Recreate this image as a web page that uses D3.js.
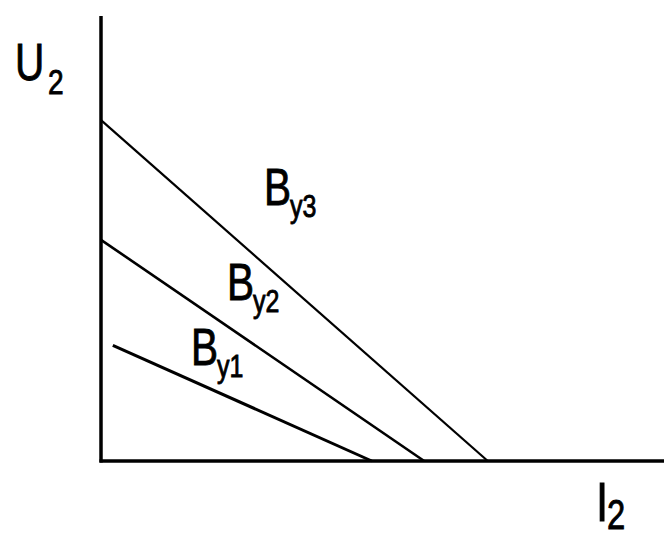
<!DOCTYPE html>
<html>
<head>
<meta charset="utf-8">
<script src="https://cdn.jsdelivr.net/npm/d3@7"></script>
<style>
  html, body { margin: 0; padding: 0; background: #fff; }
  svg { display: block; }
  text { font-family: "Liberation Sans", Arial, sans-serif; fill: #000; stroke: #000; stroke-width: 0.9px; }
</style>
</head>
<body>
<svg id="chart" width="664" height="536"></svg>
<script>
// Load characteristics U2 = f(I2) for three excitation levels
const curves = ["Ву1", "Ву2", "Ву3"];
const u2AtStart = [2.6, 4.97, 7.66];   // U2 where each line begins
const i2AtStart = [0.21, 0, 0];        // I2 where each line begins
const i2AtZero = [4.81, 5.74, 6.87];   // I2 where U2 falls to zero
const axisLabels = { y: ["U", "2"], x: ["I", "2"] };

const W = 664, H = 536;
const x0 = 101, y0 = 461;
const x = d3.scaleLinear().domain([0, 10]).range([x0, W]);
const y = d3.scaleLinear().domain([0, 10]).range([y0, 16]);

const svg = d3.select("#chart");

// curves
const widths = [3, 2.6, 2.2];
const line = d3.line().x(d => x(d[0])).y(d => y(d[1]));
curves.forEach((c, i) => {
  svg.append("path")
    .attr("d", line([[i2AtStart[i], u2AtStart[i]], [i2AtZero[i], 0]]))
    .attr("fill", "none")
    .attr("stroke", "#000")
    .attr("stroke-width", widths[i]);
});

// axes
svg.append("line")
  .attr("x1", x(0)).attr("x2", x(0))
  .attr("y1", y(10)).attr("y2", y(0) + 1.5)
  .attr("stroke", "#000").attr("stroke-width", 3.5);
svg.append("line")
  .attr("x1", x(0) - 1.5).attr("x2", x(10))
  .attr("y1", y(0)).attr("y2", y(0))
  .attr("stroke", "#000").attr("stroke-width", 3.5);

// narrow label helper: main glyph plus subscript
function label(px, py, main, sub, subDx, subDy, mainSize, subSize) {
  const g = svg.append("g").attr("transform", `translate(${px},${py}) scale(0.78,1)`);
  g.append("text").attr("x", 0).attr("y", 0)
    .style("font-size", mainSize + "px").text(main);
  g.append("text").attr("x", subDx / 0.78).attr("y", subDy)
    .style("font-size", subSize + "px").text(sub);
}

// curve labels
const curvePos = [[191, 365], [227, 300], [264, 205]];
curves.forEach((c, i) => {
  const [px, py] = curvePos[i];
  label(px, py, c[0], c.slice(1), 26, 12, 52, 32);
});

// axis titles
label(15, 80, axisLabels.y[0], axisLabels.y[1], 33, 14, 52, 36);
label(596, 521, axisLabels.x[0], axisLabels.x[1], 11, 8, 56, 42);
</script>
</body>
</html>
